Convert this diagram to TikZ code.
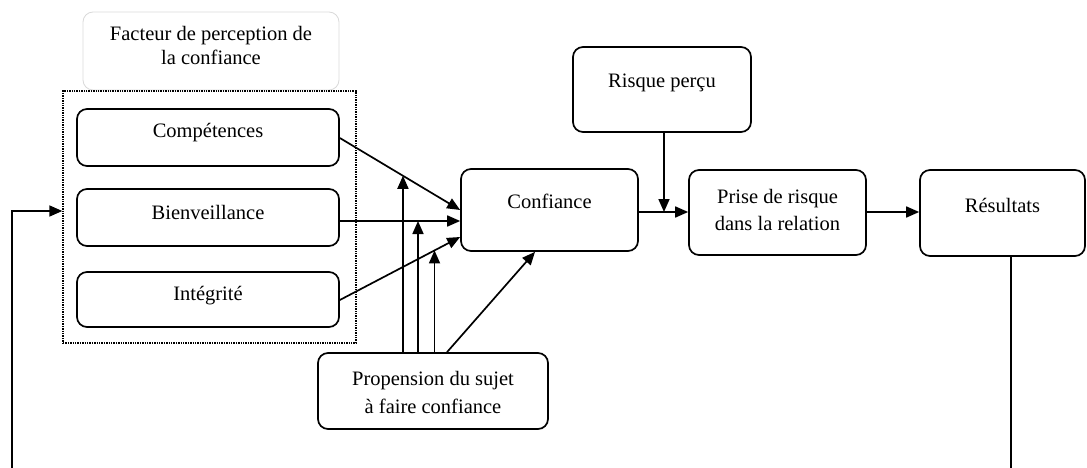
\documentclass[tikz,border=0pt]{standalone}
\usepackage{fontspec}
\setmainfont{Liberation Serif}
\usetikzlibrary{arrows.meta,calc}
\begin{document}
\begin{tikzpicture}[x=1pt,y=-1pt,
  box/.style={draw, rounded corners=10pt, line width=1.7pt, inner sep=0pt},
  txt/.style={anchor=base, inner sep=0pt, font=\fontsize{20.5}{24}\selectfont},
  arr/.style={line width=1.7pt, -{Triangle[length=13pt,width=11pt]}},
  ln/.style={line width=1.7pt}]
\useasboundingbox (0,0) rectangle (1087,468);

% title box of the group
\node[draw=black!15, line width=0.8pt, rounded corners=10pt, minimum width=256pt, minimum height=78pt] (lbl) at (211,51) {};
\node[txt] (lbl1) at (211,41) {Facteur de perception de};
\node[txt] (lbl2) at (211,65) {la confiance};

% dotted group frame
\node[draw, densely dotted, line width=1.4pt, minimum width=293pt, minimum height=252pt] (grp) at (209.5,217) {};

% three perception factors
\node[box, minimum width=262pt, minimum height=57pt] (comp) at (208,137.5) {};
\node[txt] (compt) at (208,138) {Compétences};
\node[box, minimum width=262pt, minimum height=57pt] (bien) at (208,217.5) {};
\node[txt] (bient) at (208,219) {Bienveillance};
\node[box, minimum width=262pt, minimum height=55pt] (integ) at (208,299.5) {};
\node[txt] (integt) at (208,300) {Intégrité};

% main chain
\node[box, minimum width=177pt, minimum height=82pt] (conf) at (549.5,210) {};
\node[txt] (conft) at (549.5,208) {Confiance};
\node[box, minimum width=178pt, minimum height=85pt] (risk) at (662,89.5) {};
\node[txt] (riskt) at (662,88) {Risque perçu};
\node[box, minimum width=177pt, minimum height=85pt] (prise) at (777.5,212.5) {};
\node[txt] (prise1) at (777.5,203) {Prise de risque};
\node[txt] (prise2) at (777.5,230) {dans la relation};
\node[box, minimum width=165pt, minimum height=86pt] (res) at (1002.5,213) {};
\node[txt] (rest) at (1002.5,212) {Résultats};

% propensity
\node[box, minimum width=230pt, minimum height=76pt] (prop) at (433,391) {};
\node[txt] (prop1) at (433,385) {Propension du sujet};
\node[txt] (prop2) at (433,413) {à faire confiance};

% factor arrows into trust
\coordinate (cs) at (comp.east |- 0,138);
\coordinate (ce) at (conf.west |- 0,210);
\coordinate (bs) at (bien.east |- 0,221);
\coordinate (be) at (conf.west |- 0,221);
\coordinate (is) at (integ.east |- 0,300);
\coordinate (ie) at (conf.west |- 0,237);
\draw[arr] (cs) -- (ce);
\draw[arr] (bs) -- (be);
\draw[arr] (is) -- (ie);

% propensity moderates each link
\coordinate (m1) at ($(cs)!0.5246!(ce)$);
\coordinate (m3) at ($(is)!0.7869!(ie)$);
\draw[arr] (m1 |- prop.north) -- (m1);
\draw[arr] (418,0 |- prop.north) -- (418,0 |- bs);
\draw[arr] (m3 |- prop.north) -- (m3);
\draw[arr] (447,0 |- prop.north) -- (535,0 |- conf.south);

% trust -> risk taking -> outcomes
\coordinate (j) at (664,212);
\draw[arr] (conf.east |- j) -- (prise.west |- j);
\draw[arr] (risk.south -| j) -- (j);
\draw[arr] (prise.east |- j) -- (res.west |- j);

% feedback loop
\coordinate (fb1) at (1011,468);
\coordinate (fb2) at (12,468);
\coordinate (fb3) at (12,211);
\draw[ln] (res.south -| fb1) -- (fb1);
\draw[arr] (fb2) -- (fb3) -- (grp.west |- fb3);
\end{tikzpicture}
\end{document}
